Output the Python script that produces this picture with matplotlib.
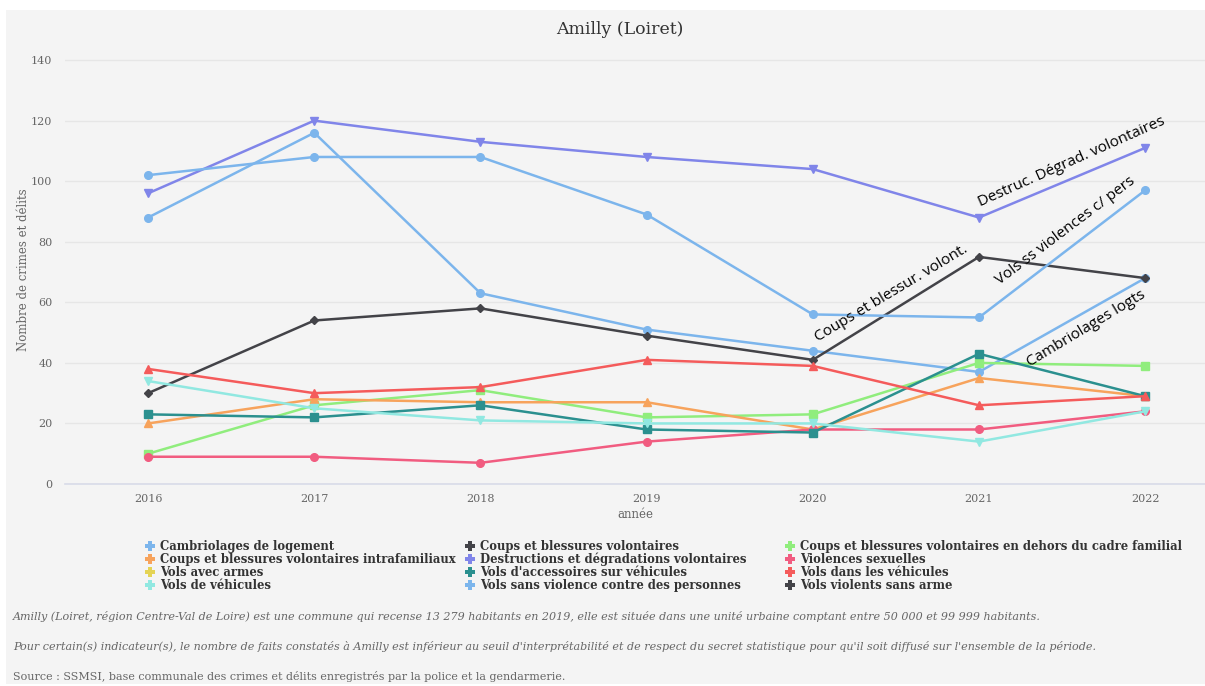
import numpy as np
import matplotlib
matplotlib.use("Agg")
import matplotlib.pyplot as plt
from matplotlib.lines import Line2D
from matplotlib.patches import Rectangle

years = [2016, 2017, 2018, 2019, 2020, 2021, 2022]

series_names = [
    "Cambriolages de logement",
    "Coups et blessures volontaires",
    "Coups et blessures volontaires en dehors du cadre familial",
    "Coups et blessures volontaires intrafamiliaux",
    "Destructions et dégradations volontaires",
    "Violences sexuelles",
    "Vols avec armes",
    "Vols d'accessoires sur véhicules",
    "Vols dans les véhicules",
    "Vols de véhicules",
    "Vols sans violence contre des personnes",
    "Vols violents sans arme",
]

cambriolages = [88, 116, 63, 51, 44, 37, 68]
coups_blessures = [30, 54, 58, 49, 41, 75, 68]
coups_hors_famille = [10, 26, 31, 22, 23, 40, 39]
coups_intrafamiliaux = [20, 28, 27, 27, 18, 35, 29]
destructions = [96, 120, 113, 108, 104, 88, 111]
violences_sexuelles = [9, 9, 7, 14, 18, 18, 24]
vols_armes = [None] * 7
vols_accessoires = [23, 22, 26, 18, 17, 43, 29]
vols_dans_vehicules = [38, 30, 32, 41, 39, 26, 29]
vols_de_vehicules = [34, 25, 21, 20, 20, 14, 24]
vols_sans_violence = [102, 108, 108, 89, 56, 55, 97]
vols_violents = [None] * 7

series_values = [
    cambriolages, coups_blessures, coups_hors_famille, coups_intrafamiliaux,
    destructions, violences_sexuelles, vols_armes, vols_accessoires,
    vols_dans_vehicules, vols_de_vehicules, vols_sans_violence, vols_violents,
]

colors = ["#7cb5ec", "#434348", "#90ed7d", "#f7a35c", "#8085e9", "#f15c80",
          "#e4d354", "#2b908f", "#f45b5b", "#91e8e1", "#7cb5ec", "#434348"]
markers = ["o", "D", "s", "^", "v"] * 3

annotations = [
    ("Destruc. Dégrad. volontaires", 2021.555, 106.3, 24),
    ("Vols ss violences c/ pers", 2021.52, 83.5, 37),
    ("Coups et blessur. volont.", 2020.47, 63.0, 31),
    ("Cambriolages logts", 2021.645, 51.2, 31),
]

notes = [
    ("Amilly (Loiret, région Centre-Val de Loire) est une commune qui recense 13 279 habitants en 2019, "
     "elle est située dans une unité urbaine comptant entre 50 000 et 99 999 habitants.", "italic"),
    ("Pour certain(s) indicateur(s), le nombre de faits constatés à Amilly est inférieur au seuil "
     "d'interprétabilité et de respect du secret statistique pour qu'il soit diffusé sur l'ensemble de la période.", "italic"),
    ("Source : SSMSI, base communale des crimes et délits enregistrés par la police et la gendarmerie.", "normal"),
]

W, H = 1205, 686
BG = "#f4f4f4"
fig = plt.figure(figsize=(W / 100, H / 100), dpi=100, facecolor="white")
fig.patches.append(Rectangle((6 / W, 2 / H), 1 - 6 / W, 1 - 12 / H, transform=fig.transFigure,
                             facecolor=BG, edgecolor="none", zorder=-10))

left, right = 65, 1205
top, bottom = 51, 484
ax = fig.add_axes([left / W, 1 - bottom / H, (right - left) / W, (bottom - top) / H])
ax.set_facecolor(BG)
ax.patch.set_alpha(0)

size_map = {"o": 5.5, "s": 5.5, "D": 4.2, "^": 6, "v": 6}
for name, vals, c, m in zip(series_names, series_values, colors, markers):
    y = np.array([np.nan if v is None else v for v in vals], dtype=float)
    ax.plot(years, y, color=c, marker=m, markersize=size_map[m], linewidth=1.8,
            label=name, zorder=3)

ax.set_xlim(2015.5, 2022.36)
ax.set_ylim(0, 143)
ax.set_yticks(range(0, 141, 20))
ax.set_xticks(years)
ax.grid(axis="y", color="#e6e6e6", linewidth=1)
ax.set_axisbelow(True)
for s in ("top", "right", "left"):
    ax.spines[s].set_visible(False)
ax.spines["bottom"].set_color("#d8dbe8")
ax.spines["bottom"].set_linewidth(1.2)
ax.tick_params(axis="both", length=0, colors="#666666", labelsize=8)
for lab in ax.get_xticklabels() + ax.get_yticklabels():
    lab.set_family("DejaVu Serif")
ax.tick_params(axis="y", pad=9)
ax.tick_params(axis="x", pad=7)

ax.set_xlabel("année", family="DejaVu Serif", fontsize=8.5, color="#666666", labelpad=3)
ax.set_ylabel("Nombre de crimes et délits", family="DejaVu Serif", fontsize=8.5, color="#666666")
ax.yaxis.set_label_coords(-35 / (right - left), (bottom - 270) / (bottom - top))

fig.text(620 / W, 1 - 29 / H, "Amilly (Loiret)", ha="center", va="center",
         family="DejaVu Serif", fontsize=12.5, color="#333333")

for txt, x, y, rot in annotations:
    ax.text(x, y, txt, rotation=rot, rotation_mode="anchor", ha="center", va="center",
            family="Open Sans", fontsize=11, color="black", zorder=5)

# legend: three columns, filled row by row as in the reference
handles = [Line2D([], [], linestyle="none", marker="P", markersize=7, color=c,
                  markeredgewidth=0) for c in colors]
col_x = [145, 465, 785]
for ci, xpix in enumerate(col_x):
    idx = [ci + 3 * r for r in range(4)]
    leg = fig.legend([handles[i] for i in idx], [series_names[i] for i in idx],
                     ncol=1, loc="upper left", bbox_to_anchor=(xpix / W, 1 - 540 / H),
                     frameon=False, handlelength=0.8, handletextpad=0.45,
                     labelspacing=0.0, borderaxespad=0, borderpad=0,
                     prop={"family": "DejaVu Serif", "weight": "bold", "size": 8.4})
    for t in leg.get_texts():
        t.set_color("#333333")

for (txt, style), ypix in zip(notes, [617, 647, 677]):
    fig.text(13 / W, 1 - ypix / H, txt, ha="left", va="center", family="DejaVu Serif",
             style=style, fontsize=8, color="#666666")

fig.savefig("out.png", dpi=100, facecolor="white")
